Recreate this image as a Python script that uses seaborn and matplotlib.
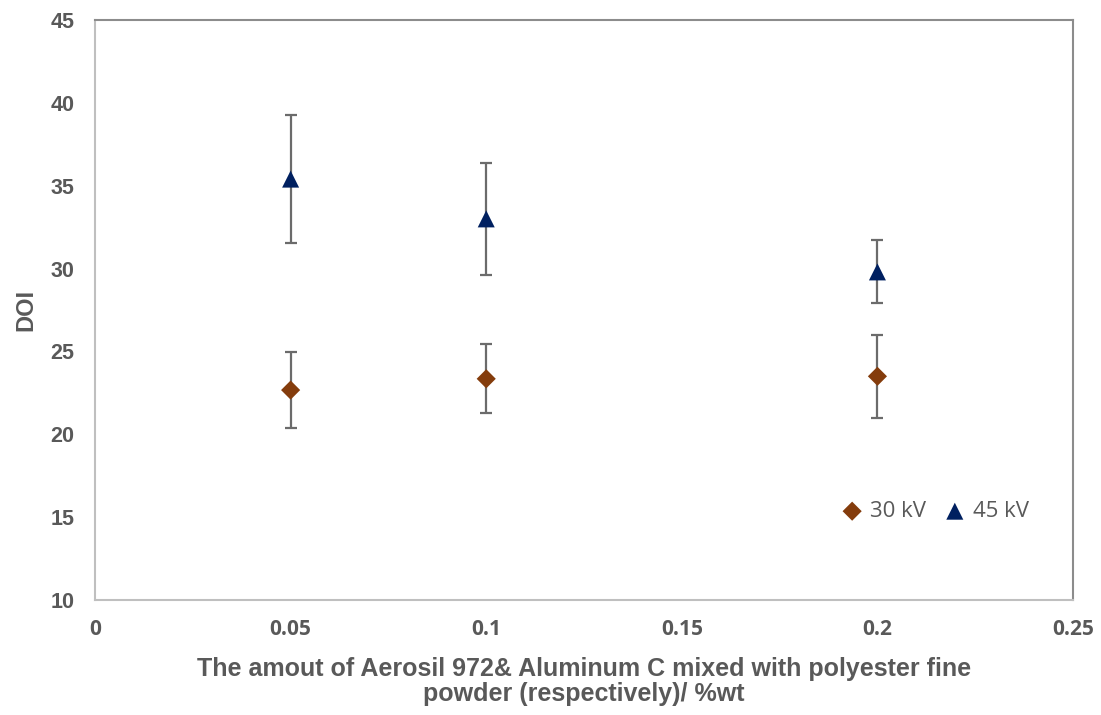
import numpy as np
import pandas as pd
import matplotlib
matplotlib.use("Agg")
import matplotlib.pyplot as plt
import seaborn as sns

# Filler amount (% wt) and measured DOI with standard deviations
amount = [0.05, 0.1, 0.2]
doi_30kv = [22.67, 23.35, 23.50]
err_30kv = [2.29, 2.08, 2.52]
doi_45kv = [35.40, 33.00, 29.80]
err_45kv = [3.87, 3.38, 1.90]
series_names = ["30 kV", "45 kV"]
x_ticks = [0, 0.05, 0.1, 0.15, 0.2, 0.25]
x_tick_labels = ["0", "0.05", "0.1", "0.15", "0.2", "0.25"]

df = pd.DataFrame({
    "amount": amount * 2,
    "doi": doi_30kv + doi_45kv,
    "err": err_30kv + err_45kv,
    "voltage": [series_names[0]] * 3 + [series_names[1]] * 3,
})

sns.set_theme(style="white")
plt.rcParams["font.family"] = ["Liberation Sans", "DejaVu Sans"]

fig = plt.figure(figsize=(11.01, 7.15), dpi=100)
ax = fig.add_axes([0.0863, 0.1608, 0.8883, 0.8112])

text_grey = "#595959"
colors = {"30 kV": "#843C0C", "45 kV": "#002060"}
markers = {"30 kV": "D", "45 kV": "^"}
sizes = {"30 kV": 95, "45 kV": 150}

# Error bars first so the markers sit on top
ax.errorbar(df["amount"], df["doi"], yerr=df["err"], fmt="none",
            ecolor="#6b6b6b", elinewidth=1.6, capsize=4.5, capthick=1.6, zorder=2)

for name in series_names:
    sub = df[df["voltage"] == name]
    sns.scatterplot(data=sub, x="amount", y="doi", ax=ax, marker=markers[name],
                    color=colors[name], s=sizes[name], edgecolor="none",
                    label=name, zorder=3)

ax.set_xlim(0, 0.25)
ax.set_ylim(10, 45)
ax.set_xticks(x_ticks)
ax.set_xticklabels(x_tick_labels)
ax.set_yticks(np.arange(10, 46, 5))

for s in ["left", "bottom"]:
    ax.spines[s].set_color("#bfbfbf")
    ax.spines[s].set_linewidth(1.5)
for s in ["top", "right"]:
    ax.spines[s].set_color("#8c8c8c")
    ax.spines[s].set_linewidth(1.5)

ax.tick_params(axis="x", length=0, pad=14)
ax.tick_params(axis="y", length=0, pad=15)
for lbl in ax.get_xticklabels():
    lbl.set_fontfamily("Open Sans")
    lbl.set_fontweight("bold")
    lbl.set_fontsize(15)
    lbl.set_color(text_grey)
for lbl in ax.get_yticklabels():
    lbl.set_fontweight("bold")
    lbl.set_fontsize(15.5)
    lbl.set_color(text_grey)

ax.set_xlabel("The amout of Aerosil 972& Aluminum C mixed with polyester fine\npowder (respectively)/ %wt",
              fontsize=18, fontweight="bold", color=text_grey, labelpad=12, linespacing=1.05)
ax.set_ylabel("DOI", fontsize=17, fontweight="bold", color=text_grey, labelpad=9)

leg = ax.legend(loc="lower right", bbox_to_anchor=(0.975, 0.10), ncol=2, frameon=False,
                handletextpad=0.3, columnspacing=0.8, handlelength=1.0,
                prop={"family": "Open Sans", "size": 16})
for t in leg.get_texts():
    t.set_color(text_grey)

fig.savefig("out.png", dpi=100)
